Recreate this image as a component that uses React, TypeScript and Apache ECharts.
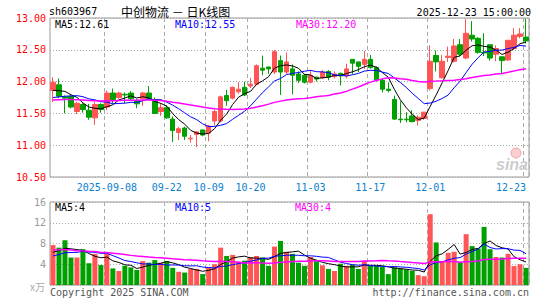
import React, { useEffect, useRef } from 'react';
import * as echarts from 'echarts';

const dates = [
  '2025-08-26', '2025-08-27', '2025-08-28', '2025-08-29',
  '2025-09-01', '2025-09-02', '2025-09-03', '2025-09-04', '2025-09-05',
  '2025-09-08', '2025-09-09', '2025-09-10', '2025-09-11', '2025-09-12',
  '2025-09-15', '2025-09-16', '2025-09-17', '2025-09-18', '2025-09-19',
  '2025-09-22', '2025-09-23', '2025-09-24', '2025-09-25', '2025-09-26',
  '2025-09-29', '2025-09-30',
  '2025-10-09', '2025-10-10',
  '2025-10-13', '2025-10-14', '2025-10-15', '2025-10-16', '2025-10-17',
  '2025-10-20', '2025-10-21', '2025-10-22', '2025-10-23', '2025-10-24',
  '2025-10-27', '2025-10-28', '2025-10-29', '2025-10-30', '2025-10-31',
  '2025-11-03', '2025-11-04', '2025-11-05', '2025-11-06', '2025-11-07',
  '2025-11-10', '2025-11-11', '2025-11-12', '2025-11-13', '2025-11-14',
  '2025-11-17', '2025-11-18', '2025-11-19', '2025-11-20', '2025-11-21',
  '2025-11-24', '2025-11-25', '2025-11-26', '2025-11-27', '2025-11-28',
  '2025-12-01', '2025-12-02', '2025-12-03', '2025-12-04', '2025-12-05',
  '2025-12-08', '2025-12-09', '2025-12-10', '2025-12-11', '2025-12-12',
  '2025-12-15', '2025-12-16', '2025-12-17', '2025-12-18', '2025-12-19',
  '2025-12-22', '2025-12-23',
];

const labelDates = ['2025-09-08', '2025-09-22', '2025-10-09', '2025-10-20', '2025-11-03', '2025-11-17', '2025-12-01', '2025-12-23'];

const opens = [
  11.86, 11.95, 11.76, 11.77, 11.53, 11.64, 11.55, 11.43, 11.64, 11.60,
  11.82, 11.75, 11.80, 11.82, 11.70, 11.73, 11.82, 11.72, 11.53, 11.59,
  11.41, 11.20, 11.27, 11.10, 11.17, 11.24, 11.19, 11.38, 11.38, 11.78,
  11.74, 11.84, 11.91, 11.93, 11.96, 12.21, 12.23, 12.15, 12.33, 12.15,
  12.20, 12.12, 12.10, 11.99, 12.07, 12.06, 12.16, 12.08, 12.13, 12.09,
  12.35, 12.31, 12.27, 12.35, 12.22, 12.02, 11.88, 11.72, 11.41, 11.41,
  11.46, 11.39, 11.42, 11.89, 12.41, 12.06, 12.38, 12.32, 12.58, 12.37,
  12.73, 12.68, 12.46, 12.58, 12.43, 12.39, 12.34, 12.52, 12.71, 12.70,
];
const closes = [
  11.99, 11.77, 11.74, 11.60, 11.66, 11.56, 11.44, 11.64, 11.56, 11.82,
  11.72, 11.82, 11.79, 11.73, 11.65, 11.82, 11.73, 11.50, 11.59, 11.43,
  11.23, 11.26, 11.14, 11.11, 11.21, 11.16, 11.30, 11.53, 11.76, 11.70,
  11.91, 11.88, 11.79, 11.96, 12.25, 12.18, 12.20, 12.47, 12.15, 12.31,
  12.10, 12.02, 11.99, 12.10, 12.04, 12.15, 12.07, 12.12, 12.09, 12.20,
  12.29, 12.24, 12.35, 12.22, 12.03, 11.88, 11.86, 11.41, 11.40, 11.40,
  11.37, 11.44, 11.52, 12.32, 12.31, 12.32, 12.40, 12.56, 12.43, 12.76,
  12.67, 12.46, 12.45, 12.37, 12.52, 12.33, 12.65, 12.73, 12.75, 12.64,
];
const lows = [
  11.68, 11.74, 11.50, 11.58, 11.49, 11.51, 11.40, 11.32, 11.51, 11.55,
  11.66, 11.73, 11.66, 11.71, 11.58, 11.62, 11.71, 11.50, 11.46, 11.41,
  11.05, 11.08, 11.08, 11.04, 10.97, 11.14, 11.06, 11.31, 11.36, 11.62,
  11.72, 11.81, 11.77, 11.90, 11.94, 12.10, 12.12, 12.12, 11.79, 12.12,
  11.80, 11.98, 11.97, 11.97, 12.00, 12.04, 12.02, 12.05, 11.94, 12.05,
  12.12, 12.15, 12.20, 12.20, 12.00, 11.83, 11.83, 11.40, 11.35, 11.36,
  11.36, 11.31, 11.40, 11.86, 12.16, 12.05, 12.31, 12.30, 12.40, 12.35,
  12.63, 12.44, 12.40, 12.33, 12.32, 12.13, 12.33, 12.50, 12.68, 12.60,
];
const highs = [
  12.07, 12.05, 11.78, 11.79, 11.68, 11.66, 11.65, 11.68, 11.66, 11.86,
  11.89, 11.84, 11.83, 11.85, 11.73, 11.84, 11.93, 11.75, 11.66, 11.63,
  11.45, 11.29, 11.29, 11.16, 11.22, 11.24, 11.32, 11.56, 11.78, 11.87,
  11.92, 11.99, 12.00, 12.06, 12.27, 12.41, 12.23, 12.50, 12.41, 12.46,
  12.27, 12.16, 12.12, 12.18, 12.07, 12.18, 12.18, 12.16, 12.14, 12.28,
  12.35, 12.31, 12.48, 12.42, 12.24, 12.05, 11.99, 11.78, 11.69, 11.52,
  11.55, 11.47, 11.52, 12.57, 12.49, 12.42, 12.55, 12.67, 12.67, 12.98,
  12.95, 12.70, 12.76, 12.58, 12.57, 12.39, 12.65, 12.84, 12.84, 12.99,
];
// volume in 万
const volumes = [
  7.7, 7.2, 8.65, 5.3, 5.3, 6.9, 4.2, 6.0, 3.85, 6.0,
  3.2, 2.7, 3.7, 3.4, 2.9, 4.6, 4.3, 4.8, 4.3, 4.6,
  3.3, 2.55, 2.4, 3.1, 3.1, 2.1, 3.4, 4.0, 7.2, 5.6,
  5.8, 4.5, 4.7, 5.4, 5.6, 5.3, 3.7, 7.4, 8.5, 6.4,
  6.0, 4.3, 3.7, 5.4, 4.6, 3.8, 3.1, 2.7, 4.1, 3.7,
  3.9, 3.1, 4.6, 3.7, 3.65, 3.5, 2.1, 3.4, 3.2, 3.0,
  2.7, 1.9, 1.7, 13.65, 8.2, 4.6, 6.2, 6.4, 4.4, 9.8,
  7.5, 7.05, 11.2, 6.9, 5.4, 5.3, 6.0, 3.65, 4.0, 3.3,
];
// sessions before the visible window (needed for the moving averages)
const priorCloses = [
  11.60, 11.62, 11.65, 11.70, 11.68, 11.72, 11.75, 11.70, 11.66, 11.70,
  11.73, 11.70, 11.68, 11.72, 11.70, 11.68, 11.66, 11.70, 11.72, 11.70,
  11.68, 11.62, 11.58, 11.60, 11.72, 11.78, 11.80, 11.86, 11.87,
];
const priorVolumes = [
  6.5, 7.0, 8.2, 9.5, 7.8, 6.9, 7.4, 8.8, 6.2, 7.0,
  6.5, 7.9, 8.4, 6.8, 6.9, 7.2, 7.6, 6.3, 6.8, 7.3,
  4.5, 5.2, 4.8, 5.0, 5.0, 5.5, 6.5, 5.8, 6.0,
];

const priceMaLabels = ['MA5:12.61', 'MA10:12.55', 'MA30:12.20'];
const volumeMaLabels = ['MA5:4', 'MA10:5', 'MA30:4'];
const maPeriods = [5, 10, 30];
const maColors = ['#000000', '#0000ff', '#ff00ff'];

const UP = '#ff5555';
const DOWN = '#00a000';
const MONO = 'DejaVu Sans Mono';

function movingAverage(history: number[], values: number[], n: number): number[] {
  const all = history.concat(values);
  const off = history.length;
  return values.map((_, i) => {
    let s = 0;
    for (let k = 0; k < n; k++) s += all[off + i - k];
    return +(s / n).toFixed(4);
  });
}

export default function App() {
  const ref = useRef<HTMLDivElement>(null);
  useEffect(() => {
    document.body.style.margin = '0';
    const chart = echarts.init(ref.current!, null, { renderer: 'svg' });
    const labelSet = new Set(labelDates);
    const isLabel = (i: number, v: string) => labelSet.has(dates[i] ?? v);

    const candleData = dates.map((_, i) => [opens[i], closes[i], lows[i], highs[i]]);
    const volData = volumes.map((v, i) => ({
      value: v,
      itemStyle: { color: closes[i] >= opens[i] ? UP : DOWN },
    }));

    const priceMAs = maPeriods.map((n, k) => ({
      type: 'line',
      xAxisIndex: 0,
      yAxisIndex: 0,
      data: movingAverage(priorCloses, closes, n),
      symbol: 'none',
      silent: true,
      lineStyle: { color: maColors[k], width: k === 2 ? 1.5 : 1 },
      z: 5,
    }));
    const volMAs = maPeriods.map((n, k) => ({
      type: 'line',
      xAxisIndex: 1,
      yAxisIndex: 1,
      data: movingAverage(priorVolumes, volumes, n),
      symbol: 'none',
      silent: true,
      lineStyle: { color: maColors[k], width: k === 2 ? 1.5 : 1 },
      z: 5,
    }));

    const splitX = {
      show: true,
      interval: (i: number, v: string) => isLabel(i, v),
      lineStyle: { color: '#aaaaaa', type: [4, 3], width: 1 },
    };

    const txt = (text: string, x: number, y: number, fill: string, align = 'left', font = `10px "${MONO}"`) => ({
      type: 'text',
      x,
      y,
      silent: true,
      z: 100,
      style: { text, fill, font, textAlign: align, textVerticalAlign: 'middle', align, verticalAlign: 'middle' },
    });

    chart.setOption({
      animation: false,
      backgroundColor: '#ffffff',
      grid: [
        { left: 50, top: 18, width: 479, height: 159, show: true, borderColor: '#999999', borderWidth: 1, backgroundColor: 'transparent', containLabel: false, outerBoundsMode: 'none' },
        { left: 50, top: 202, width: 479, height: 83, show: true, borderColor: '#999999', borderWidth: 1, backgroundColor: 'transparent', containLabel: false, outerBoundsMode: 'none' },
      ],
      xAxis: [
        {
          type: 'category',
          gridIndex: 0,
          data: dates,
          boundaryGap: true,
          axisLine: { show: false },
          axisTick: { show: false },
          axisLabel: {
            interval: (i: number, v: string) => isLabel(i, v),
            formatter: (v: string) => (v === labelDates[0] ? v : v.slice(5)),
            color: '#0a80d0',
            fontFamily: MONO,
            fontSize: 10,
            margin: 5,
            alignMaxLabel: 'right',
          },
          splitLine: splitX,
        },
        {
          type: 'category',
          gridIndex: 1,
          data: dates,
          boundaryGap: true,
          axisLine: { show: false },
          axisTick: { show: false },
          axisLabel: { show: false },
          splitLine: splitX,
        },
      ],
      yAxis: [
        {
          type: 'value',
          gridIndex: 0,
          min: 10.5,
          max: 13,
          interval: 0.5,
          axisLine: { show: false },
          axisTick: { show: false },
          axisLabel: { color: '#ff0000', fontFamily: MONO, fontSize: 10, margin: 4, formatter: (v: number) => v.toFixed(2) },
          splitLine: { show: true, lineStyle: { color: '#aaaaaa', type: [1, 2], width: 1 } },
        },
        {
          type: 'value',
          gridIndex: 1,
          min: 0,
          max: 16,
          interval: 4,
          axisLine: { show: false },
          axisTick: { show: false },
          axisLabel: { color: '#999999', fontFamily: MONO, fontSize: 10, margin: 4, formatter: (v: number) => (v === 0 ? '' : String(v)) },
          splitLine: { show: true, lineStyle: { color: '#aaaaaa', type: [1, 2], width: 1 } },
        },
      ],
      series: [
        {
          type: 'candlestick',
          xAxisIndex: 0,
          yAxisIndex: 0,
          data: candleData,
          barWidth: 5,
          itemStyle: { color: UP, color0: DOWN, borderColor: UP, borderColor0: DOWN, borderWidth: 1 },
        },
        ...priceMAs,
        {
          type: 'bar',
          xAxisIndex: 1,
          yAxisIndex: 1,
          data: volData,
          barWidth: 5,
        },
        ...volMAs,
      ],
      graphic: [
        txt('sh603967', 49, 11, '#000000'),
        txt('中创物流 － 日K线图', 121, 11, '#000000', 'left', '12px "Noto Sans CJK SC"'),
        txt('2025-12-23 15:00:00', 531, 12, '#000000', 'right'),
        txt(priceMaLabels[0], 55, 24, maColors[0]),
        txt(priceMaLabels[1], 175, 24, maColors[1]),
        txt(priceMaLabels[2], 296, 24, maColors[2]),
        txt(volumeMaLabels[0], 55, 207, maColors[0]),
        txt(volumeMaLabels[1], 175, 207, maColors[1]),
        txt(volumeMaLabels[2], 295, 207, maColors[2]),
        txt('x万', 45, 286, '#aaaaaa', 'right', '10px "Noto Sans CJK SC"'),
        txt('Copyright 2025 SINA.COM', 50, 292, '#555555'),
        txt('http://finance.sina.com.cn', 529, 292, '#555555', 'right'),
        {
          type: 'circle',
          silent: true,
          z: 90,
          shape: { cx: 516, cy: 153, r: 5 },
          style: { fill: 'rgba(240,120,120,0.35)', stroke: 'rgba(230,100,100,0.5)', lineWidth: 1 },
        },
        txt('sina', 512, 164, '#cccccc', 'center', 'italic bold 16px "Liberation Sans"'),
      ],
    });
    return () => chart.dispose();
  }, []);
  return <div ref={ref} style={{ position: 'fixed', left: 0, top: 0, width: 545, height: 300 }} />;
}
